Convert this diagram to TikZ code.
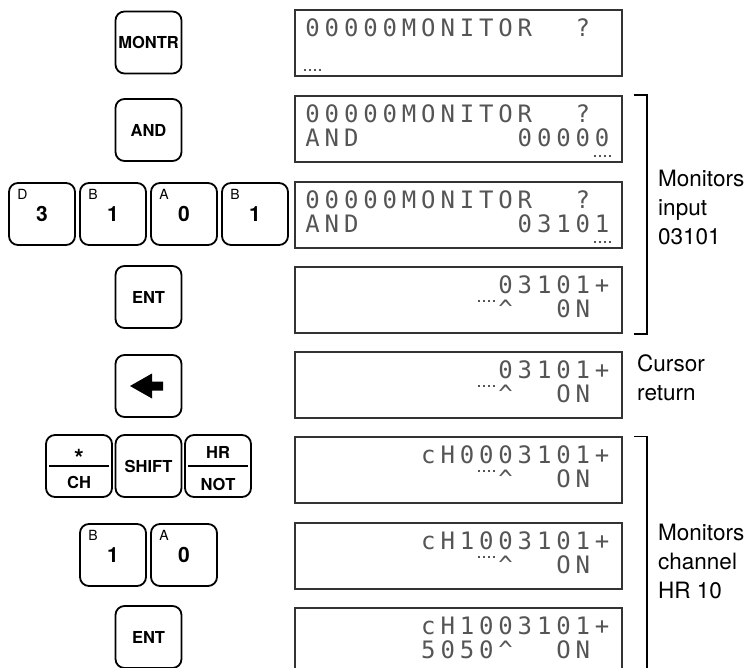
\documentclass[tikz,border=0pt]{standalone}
\usepackage{fontspec}
\setsansfont{TeX Gyre Heros}
\newfontfamily\lcdfont{DejaVu Sans Mono}
\usepackage{tikz}
\usetikzlibrary{calc}
\definecolor{lcdInk}{HTML}{555555}
\definecolor{frameGrey}{HTML}{333333}
% one display cell per character, '-' is an empty cell
\newcommand\lcd[1]{\lcdnext#1\relax}
\newcommand\lcdnext[1]{\ifx\relax#1\else\makebox[19.3pt]{\ifx-#1\else#1\fi}\expandafter\lcdnext\fi}
% dotted cursor under column #2 of display #1, #3 below its top edge
\newcommand\curmark[3]{\draw[curs] ($(#1.north west)+({8.5+(#2-1)*19.3+1.5},-#3)$) -- ++(17,0);}

\begin{document}
\begin{tikzpicture}[x=1pt,y=1pt,
  key/.style={draw,line width=1.8pt,rounded corners=9pt,minimum width=66pt,minimum height=62pt,inner sep=0pt,font=\sffamily\bfseries\fontsize{16.5}{19}\selectfont},
  hexkey/.style={key,font=\sffamily\bfseries\fontsize{21}{24}\selectfont,label={[hexlab]north west:#1}},
  hexlab/.style={anchor=north west,xshift=9pt,yshift=-7pt,inner sep=0pt,font=\sffamily\fontsize{14}{14}\selectfont},
  keytxt/.style={anchor=base,inner sep=0pt,font=\sffamily\bfseries\fontsize{16.5}{19}\selectfont},
  keyline/.style={line width=1.6pt},
  disp/.style={draw=frameGrey,line width=1.4pt,minimum width=327pt,minimum height=66pt,inner sep=0pt},
  lcdrow/.style={anchor=base west,inner sep=0pt,text=lcdInk,font=\lcdfont\fontsize{24}{24}\selectfont},
  curs/.style={draw=lcdInk,line width=2pt,dash pattern=on 2pt off 3pt},
  brk/.style={line width=1.6pt},
  note/.style={anchor=west,align=left,inner sep=0pt,font=\sffamily\fontsize{22.5}{29}\selectfont}]

\useasboundingbox (0,0) rectangle (749,-668);

% displays
\node[disp] (d1) at (458.5,-43) {};
\node[lcdrow] (d1a) at ($(d1.north west)+(8.5,-27)$) {\lcd{00000MONITOR--?-}};
\curmark{d1}{1}{61}

\node[disp] (d2) at (458.5,-129) {};
\node[lcdrow] (d2a) at ($(d2.north west)+(8.5,-27)$) {\lcd{00000MONITOR--?-}};
\node[lcdrow] (d2b) at ($(d2.north west)+(8.5,-51)$) {\lcd{AND--------00000}};
\curmark{d2}{16}{61}

\node[disp] (d3) at (458.5,-215) {};
\node[lcdrow] (d3a) at ($(d3.north west)+(8.5,-27)$) {\lcd{00000MONITOR--?-}};
\node[lcdrow] (d3b) at ($(d3.north west)+(8.5,-51)$) {\lcd{AND--------03101}};
\curmark{d3}{16}{61}

\node[disp] (d4) at (458.5,-300) {};
\node[lcdrow] (d4a) at ($(d4.north west)+(8.5,-27)$) {\lcd{----------03101+}};
\node[lcdrow] (d4b) at ($(d4.north west)+(8.5,-51)$) {\lcd{----------\textasciicircum--0N-}};
\curmark{d4}{10}{35}

\node[disp] (d5) at (458.5,-385) {};
\node[lcdrow] (d5a) at ($(d5.north west)+(8.5,-27)$) {\lcd{----------03101+}};
\node[lcdrow] (d5b) at ($(d5.north west)+(8.5,-51)$) {\lcd{----------\textasciicircum--ON-}};
\curmark{d5}{10}{35}

\node[disp] (d6) at (458.5,-470) {};
\node[lcdrow] (d6a) at ($(d6.north west)+(8.5,-27)$) {\lcd{------cH0003101+}};
\node[lcdrow] (d6b) at ($(d6.north west)+(8.5,-51)$) {\lcd{----------\textasciicircum--ON-}};
\curmark{d6}{10}{35}

\node[disp] (d7) at (458.5,-556) {};
\node[lcdrow] (d7a) at ($(d7.north west)+(8.5,-27)$) {\lcd{------cH1003101+}};
\node[lcdrow] (d7b) at ($(d7.north west)+(8.5,-51)$) {\lcd{----------\textasciicircum--ON-}};
\curmark{d7}{10}{35}

\node[disp] (d8) at (458.5,-641) {};
\node[lcdrow] (d8a) at ($(d8.north west)+(8.5,-27)$) {\lcd{------cH1003101+}};
\node[lcdrow] (d8b) at ($(d8.north west)+(8.5,-51)$) {\lcd{------5050\textasciicircum--ON-}};

% keys
\node[key] (montr) at (148.5,-42.5) {MONTR};
\node[key] (and) at (148.5,-130) {AND};
\node[hexkey=D] (k3) at (42,-214) {3};
\node[hexkey=B] (k1) at (113,-214) {1};
\node[hexkey=A] (k0) at (184,-214) {0};
\node[hexkey=B] (k1b) at (255,-214) {1};
\node[key] (ent) at (148.5,-297) {ENT};
\node[key] (back) at (148.5,-386) {};
\fill (back.center) ++(-18.5,0) -- ++(22,12.5) -- ++(0,-8) -- ++(11,0) -- ++(0,-9) -- ++(-11,0) -- ++(0,-8) -- cycle;

\node[key] (ch) at (79,-466) {};
\draw[keyline] ([xshift=4pt]ch.west) -- ([xshift=-4pt]ch.east);
\node[keytxt,font=\sffamily\bfseries\fontsize{25}{25}\selectfont] (chUp) at ($(ch.center)+(0,-1)$) {*};
\node[keytxt] (chLo) at ($(ch.center)+(0,-22)$) {CH};
\node[key] (shift) at (148.5,-466) {SHIFT};
\node[key] (hr) at (218,-466) {};
\draw[keyline] ([xshift=4pt]hr.west) -- ([xshift=-4pt]hr.east);
\node[keytxt] (hrUp) at ($(hr.center)+(0,8)$) {HR};
\node[keytxt] (hrLo) at ($(hr.center)+(0,-24)$) {NOT};

\node[hexkey=B] (k1c) at (113,-555) {1};
\node[hexkey=A] (k0b) at (184,-555) {0};
\node[key] (ent2) at (148.5,-637) {ENT};

% brackets and notes
\draw[brk] ([xshift=11pt]d2.north east) -- ++(13,0) |- ([xshift=11pt]d4.south east);
\draw[brk] ([xshift=11pt]d6.north east) -- ++(13,0) -- ([xshift=24pt]d8.south east);

\node[note] (inNote) at (658,-207) {Monitors\\input\\03101};
\node[note] (curNote) at (637,-378) {Cursor\\return};
\node[note] (hrNote) at (658,-561) {Monitors\\channel\\HR 10};
\end{tikzpicture}
\end{document}
